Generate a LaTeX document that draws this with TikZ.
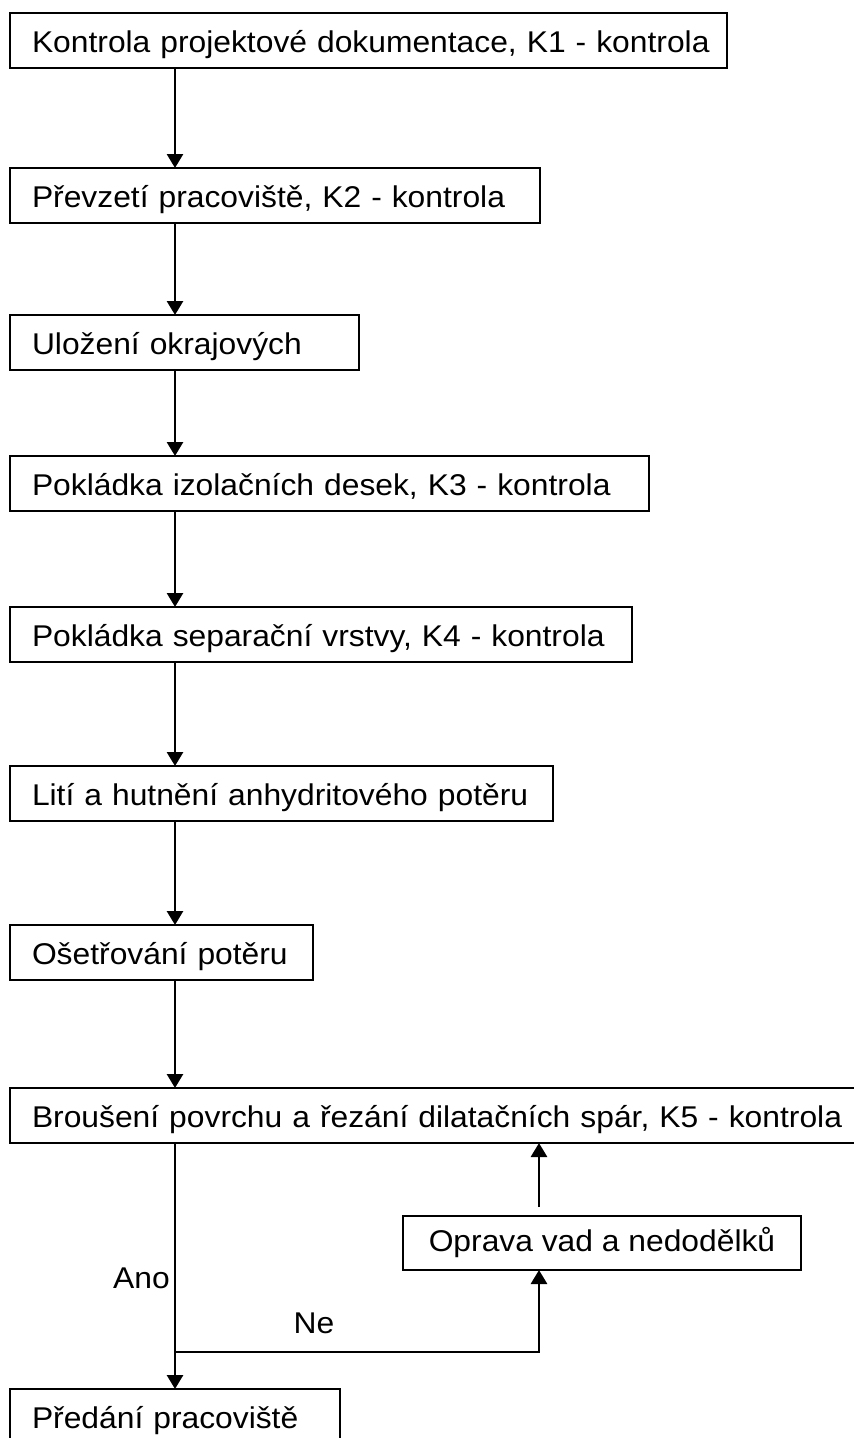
\documentclass[tikz,border=0pt]{standalone}
\usepackage{fontspec}
\setmainfont{Liberation Sans}[FakeStretch=1.06]
\usetikzlibrary{arrows.meta}

\tikzset{
  krok/.style={draw, line width=2.8pt, anchor=north west, outer sep=0pt,
    inner xsep=0pt, inner ysep=0pt, minimum height=55pt, text width=#1,
    align=left, execute at begin node={\noindent\rule[-6pt]{0pt}{36pt}\hspace*{22pt}}},
  oprava/.style={draw, line width=2.8pt, anchor=north west, outer sep=0pt,
    minimum width=398pt, minimum height=54pt},
  popis/.style={inner sep=0pt},
  sipka/.style={line width=2.8pt, -{Triangle[width=16pt,length=14pt]}}
}

\begin{document}
\begin{tikzpicture}[x=1pt, y=-1pt, font=\fontsize{30}{36}\selectfont]
    \useasboundingbox (0,0) rectangle (854,1438);

    \coordinate (osa) at (175,0);
    \coordinate (vetev) at (539,1352);

    \node[krok=717pt] (k1) at (10,13) {Kontrola projektové dokumentace, K1 - kontrola};
    \node[krok=530pt] (k2) at (10,168) {Převzetí pracoviště, K2 - kontrola};
    \node[krok=349pt] (k3) at (10,315) {Uložení okrajových};
    \node[krok=639pt] (k4) at (10,456) {Pokládka izolačních desek, K3 - kontrola};
    \node[krok=622pt] (k5) at (10,607) {Pokládka separační vrstvy, K4 - kontrola};
    \node[krok=543pt] (k6) at (10,766) {Lití a hutnění anhydritového potěru};
    \node[krok=303pt] (k7) at (10,925) {Ošetřování potěru};
    \node[krok=850pt] (k8) at (10,1088) {Broušení povrchu a řezání dilatačních spár, K5 - kontrola};
    \node[krok=330pt] (k9) at (10,1389) {Předání pracoviště};
    \node[oprava] (opr) at (403,1216) {Oprava vad a nedodělků};

    \node[popis, anchor=east] (ano) at (170,1278) {Ano};
    \node[popis] (ne) at (314,1323) {Ne};

    \foreach \a/\b in {k1/k2,k2/k3,k3/k4,k4/k5,k5/k6,k6/k7,k7/k8,k8/k9}{
        \draw[sipka] (\a.south -| osa) -- (\b.north -| osa);
    }

    \draw[sipka] (osa |- vetev) -| (opr.south -| vetev);
    \draw[sipka, shorten <=9pt] (opr.north -| vetev) -- (k8.south -| vetev);
\end{tikzpicture}
\end{document}
